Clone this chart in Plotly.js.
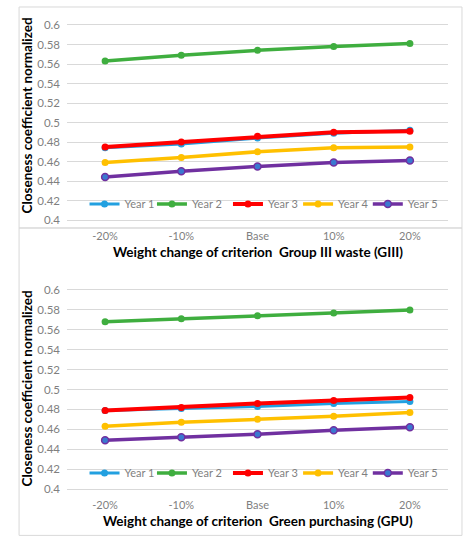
<!DOCTYPE html>
<html>
<head>
<meta charset="utf-8">
<script src="https://cdn.plot.ly/plotly-3.0.1.min.js"></script>
<style>
  body { margin: 0; background: #fff; }
  #chart { width: 472px; height: 550px; }
</style>
</head>
<body>
<div id="chart"></div>
<script>
const weightSteps = ['-20%', '-10%', 'Base', '10%', '20%'];
const yearNames = ['Year 1', 'Year 2', 'Year 3', 'Year 4', 'Year 5'];

// top panel: Group III waste (GIII)
const giiiYear1 = [0.474, 0.478, 0.484, 0.489, 0.492];
const giiiYear2 = [0.563, 0.569, 0.574, 0.578, 0.581];
const giiiYear3 = [0.475, 0.480, 0.486, 0.490, 0.491];
const giiiYear4 = [0.459, 0.464, 0.470, 0.474, 0.475];
const giiiYear5 = [0.444, 0.450, 0.455, 0.459, 0.461];

// bottom panel: Green purchasing (GPU)
const gpuYear1 = [0.479, 0.481, 0.483, 0.486, 0.488];
const gpuYear2 = [0.568, 0.571, 0.574, 0.577, 0.580];
const gpuYear3 = [0.479, 0.482, 0.486, 0.489, 0.492];
const gpuYear4 = [0.463, 0.467, 0.470, 0.473, 0.477];
const gpuYear5 = [0.449, 0.452, 0.455, 0.459, 0.462];

const lineColors = ['#22a0e0', '#3fae3f', '#ff0000', '#ffc000', '#7030a0'];
const markerColors = ['#22a0e0', '#3fae3f', '#ff0000', '#ffc000', '#3a78d0'];
const lineWidths = [3, 3.5, 4, 3.5, 3.5];

const FONT = 'Lato, "Open Sans", sans-serif';
const GRID = '#d9d9d9';

// one small legend per entry so the entries can sit as close as in the picture
const legendLeft = [0.046, 0.223, 0.4225, 0.6065, 0.7895];

function legendName(n) {
  return n === 1 ? 'legend' : 'legend' + n;
}

function makeTraces(seriesList, xa, ya, legendOffset) {
  // red sits over blue in the picture, so year 3 is drawn last
  const order = [0, 1, 3, 4, 2];
  const traces = [];
  for (const i of order) {
    traces.push({
      x: weightSteps,
      y: seriesList[i],
      name: yearNames[i],
      type: 'scatter',
      mode: 'lines+markers',
      xaxis: xa,
      yaxis: ya,
      legend: legendName(legendOffset + i + 1),
      line: {color: lineColors[i], width: lineWidths[i]},
      marker: {
        color: markerColors[i], size: 7,
        line: {color: lineColors[i], width: i === 4 ? 1.5 : 0}
      },
      hoverinfo: 'x+y+name'
    });
  }
  return traces;
}

const data = [
  ...makeTraces([giiiYear1, giiiYear2, giiiYear3, giiiYear4, giiiYear5], 'x', 'y', 0),
  ...makeTraces([gpuYear1, gpuYear2, gpuYear3, gpuYear4, gpuYear5], 'x2', 'y2', 5)
];

const yTicks = [0.4, 0.42, 0.44, 0.46, 0.48, 0.5, 0.52, 0.54, 0.56, 0.58, 0.6];

function yAxis(domain) {
  return {
    domain: domain,
    range: [0.4, 0.6],
    tickvals: yTicks,
    ticktext: yTicks.map(v => String(v)),
    showgrid: true,
    gridcolor: GRID,
    gridwidth: 1,
    zeroline: false,
    showline: false,
    ticks: '',
    ticklabelstandoff: 6,
    tickfont: {family: FONT, size: 11.5, color: '#7f7f7f'}
  };
}

function xAxis(anchor) {
  return {
    anchor: anchor,
    type: 'category',
    range: [-0.5, 4.5],
    showgrid: false,
    zeroline: false,
    showline: true,
    mirror: true,
    linecolor: GRID,
    linewidth: 1,
    ticks: '',
    ticklabelstandoff: 6,
    tickfont: {family: FONT, size: 11, color: '#7f7f7f'}
  };
}

function legendAt(x, y) {
  return {
    orientation: 'h',
    x: x, xanchor: 'left',
    y: y, yanchor: 'middle',
    xref: 'paper', yref: 'paper',
    bgcolor: 'rgba(0,0,0,0)',
    itemwidth: 30,
    font: {family: FONT, size: 11, color: '#7f7f7f'}
  };
}

const titleFont = {family: FONT, size: 13.5, color: '#000'};

function note(text, x, y, angle) {
  return {
    text: '<b>' + text + '</b>', xref: 'paper', yref: 'paper',
    x: x, y: y, xanchor: 'center', yanchor: 'middle',
    textangle: angle, showarrow: false, font: titleFont
  };
}

const layout = {
  width: 472,
  height: 550,
  margin: {l: 67, r: 24, t: 25, b: 61},
  paper_bgcolor: '#fff',
  plot_bgcolor: '#fff',
  showlegend: true,
  xaxis: xAxis('y'),
  yaxis: yAxis([0.5797, 1]),
  xaxis2: xAxis('y2'),
  yaxis2: yAxis([0, 0.4289]),
  annotations: [
    note('Weight change of criterion  Group III waste (GIII)', 0.5, 0.511, 0),
    note('Weight change of criterion  Green purchasing (GPU)', 0.5, -0.069, 0),
    note('Closeness coefficient normalized', -0.105, 0.805, -90),
    note('Closeness coefficient normalized', -0.105, 0.2165, -90)
  ],
  shapes: [
    {type: 'rect', xref: 'paper', yref: 'paper', x0: -0.1258, x1: 1.0367, y0: 0.5625, y1: 1.0388,
     line: {color: GRID, width: 1}},
    {type: 'rect', xref: 'paper', yref: 'paper', x0: -0.1258, x1: 1.0367, y0: -0.1, y1: 0.5625,
     line: {color: GRID, width: 1}}
  ]
};

for (let i = 0; i < 5; i++) {
  layout[legendName(i + 1)] = legendAt(legendLeft[i], 0.6142);
  layout[legendName(i + 6)] = legendAt(legendLeft[i], 0.0345);
}

Plotly.newPlot('chart', data, layout, {displayModeBar: false, staticPlot: true});
</script>
</body>
</html>
